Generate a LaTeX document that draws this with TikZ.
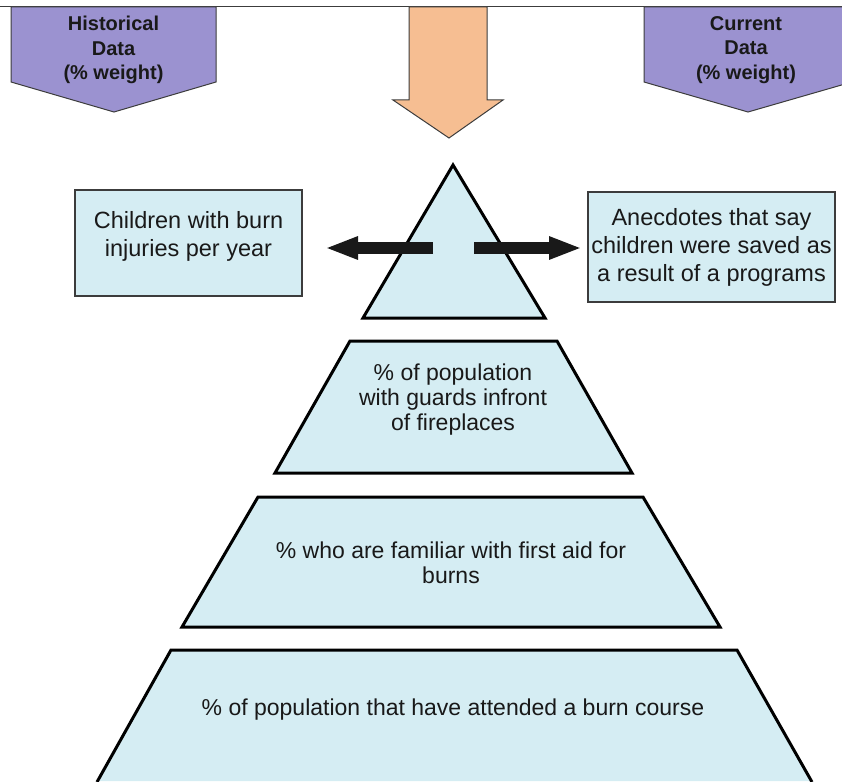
\documentclass[tikz,border=0pt]{standalone}
\usepackage{fontspec}
\setmainfont{Liberation Sans}
\usetikzlibrary{arrows.meta}
\definecolor{lavender}{RGB}{155,146,208}
\definecolor{peach}{RGB}{246,190,146}
\definecolor{icecyan}{RGB}{213,237,243}
\definecolor{edgegray}{RGB}{60,60,60}
\tikzset{
  x=1pt,y=-1pt,
  tier/.style={fill=icecyan,draw=black,line width=3pt,line join=miter},
  databox/.style={fill=icecyan,draw=edgegray,line width=1.3pt},
  banner/.style={fill=lavender,draw=edgegray,line width=1pt},
  bannertext/.style={font=\fontsize{20}{24.5}\selectfont\bfseries,align=center,text=black!90},
  tiertext/.style={font=\fontsize{23}{25}\selectfont,align=center,text=black!90},
  boxtext/.style={font=\fontsize{23.5}{28}\selectfont,align=center,text=black!90},
  blackarrow/.style={line width=12pt,draw=black!90,-{Triangle[width=21pt,length=33pt]}}
}
\begin{document}
\begin{tikzpicture}
\useasboundingbox (0,0) rectangle (842,781);
% top rule
\draw[edgegray,line width=1pt] (0,7) -- (842,7);
% banners
\path[banner] (11,7) -- (216,7) -- (216,82) -- (114,112) -- (11,82) -- cycle;
\node[bannertext] (hist) at (113.5,50) {Historical\\Data\\(\% weight)};
\path[banner] (644,7) -- (852,7) -- (852,82) -- (748,112) -- (644,82) -- cycle;
\node[bannertext] (curr) at (746,50) {Current\\Data\\(\% weight)};
% central down arrow
\path[fill=peach,draw=edgegray,line width=1pt] (409,7) -- (487,7) -- (487,100) -- (503,100) -- (449,138) -- (393,100) -- (409,100) -- cycle;
% side boxes
\draw[databox] (75,190) rectangle (302,296);
\node[boxtext] (kids) at (188.5,236) {Children with burn\\injuries per year};
\draw[databox] (588,192) rectangle (835,302);
\node[boxtext] (anec) at (711.5,247) {Anecdotes that say\\children were saved as\\a result of a programs};
% pyramid
\path[tier] (453,165) -- (545,318) -- (363,318) -- cycle;
\path[tier] (350,341) -- (557,341) -- (632,473) -- (275,473) -- cycle;
\node[tiertext] (guards) at (453,400) {\% of population\\with guards infront\\of fireplaces};
\path[tier] (258,497) -- (643,497) -- (720,627) -- (182,627) -- cycle;
\node[tiertext] (aid) at (451,563) {\% who are familiar with first aid for\\burns};
\fill[icecyan] (171,650) -- (737,650) -- (812,781) -- (97,781) -- cycle;
\draw[black,line width=3pt,line join=miter] (97,782) -- (171,650) -- (737,650) -- (812,782);
\node[tiertext] (course) at (453,710) {\% of population that have attended a burn course};
% black arrows out of the apex
\coordinate (la) at (433,248);
\coordinate (lt) at (325,248);
\coordinate (ra) at (474,248);
\coordinate (rt) at (582,248);
\draw[blackarrow] (la) -- (lt);
\draw[blackarrow] (ra) -- (rt);
\end{tikzpicture}
\end{document}
